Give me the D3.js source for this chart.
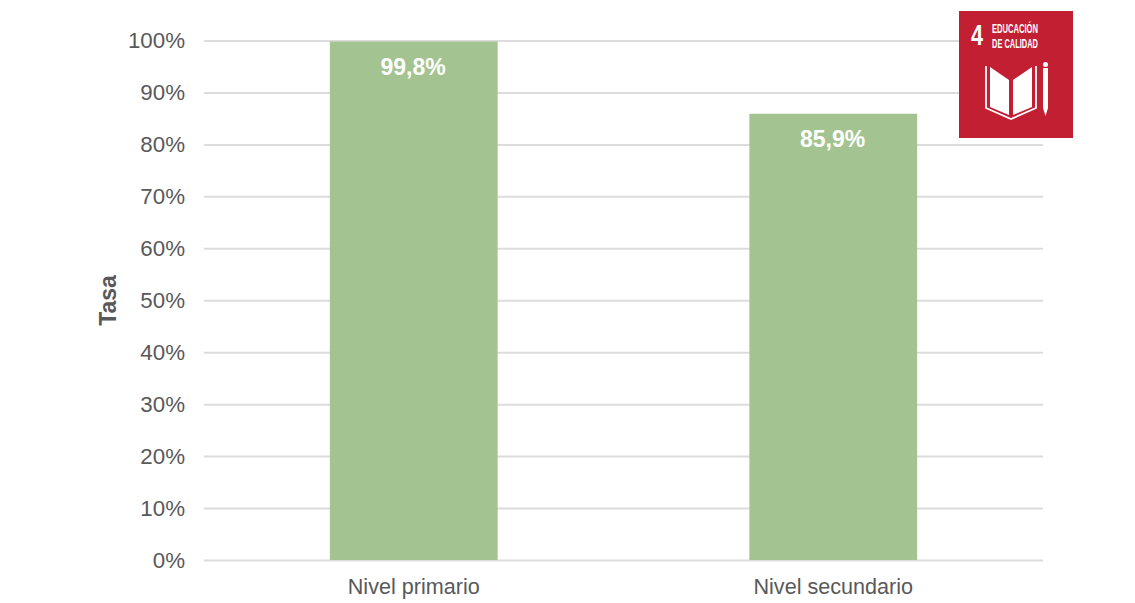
<!DOCTYPE html>
<html><head><meta charset="utf-8">
<script src="https://cdn.jsdelivr.net/npm/d3@7/dist/d3.min.js"></script>
<style>html,body{margin:0;background:#fff}svg{display:block}text{font-family:"Liberation Sans",Arial,sans-serif}</style>
</head><body><svg id="c" width="1135" height="603"></svg>
<script>
const categories = ["Nivel primario", "Nivel secundario"];
const values = [99.8, 85.9];
const valueLabels = ["99,8%", "85,9%"];
const yTicks = [0,10,20,30,40,50,60,70,80,90,100];
const yTitle = "Tasa";
const logoLines = ["EDUCACIÓN", "DE CALIDAD"];
const logoNumber = "4";

const svg = d3.select("#c");
const x = d3.scaleBand().domain(categories).range([204,1043]).paddingInner(0.6).paddingOuter(0.3);
const y = d3.scaleLinear().domain([0,100]).range([560,40.5]);

const gy = svg.append("g").attr("transform","translate(204,0)")
  .call(d3.axisLeft(y).tickValues(yTicks).tickSize(-839).tickPadding(19).tickFormat(d=>d+"%"));
gy.select(".domain").remove();
gy.selectAll("line").attr("stroke","#dcdcdc").attr("stroke-width",2);
gy.selectAll("text").attr("fill","#595959").attr("font-size",22.3);

svg.selectAll("rect.bar").data(values).join("rect").attr("class","bar")
  .attr("x",(d,i)=>x(categories[i])).attr("width",x.bandwidth())
  .attr("y",d=>y(d)).attr("height",d=>y(0)-y(d)).attr("fill","#a3c490");

svg.selectAll("text.val").data(values).join("text").attr("class","val")
  .attr("x",(d,i)=>x(categories[i])+x.bandwidth()/2-0.7).attr("y",d=>y(d)+33.5)
  .attr("text-anchor","middle").attr("fill","#fff").attr("font-size",23).attr("font-weight",700)
  .text((d,i)=>valueLabels[i]);

const gx = svg.append("g").attr("transform","translate(0,560)")
  .call(d3.axisBottom(x).tickSize(0).tickPadding(19));
gx.select(".domain").remove();
gx.selectAll("text").attr("fill","#595959").attr("font-size",21.6);

svg.append("text").attr("transform","translate(115.500,300.500) rotate(-90)").attr("text-anchor","middle")
  .attr("fill","#595959").attr("font-size",23).attr("font-weight",700).text(yTitle);

// SDG 4 logo
const logo = svg.append("g").attr("transform","translate(959,11)");
logo.append("rect").attr("width",114).attr("height",127).attr("fill","#c31f33");
logo.append("text").attr("x",12).attr("y",34).attr("fill","#fff").attr("font-size",30).attr("font-weight",700)
  .attr("textLength",12).attr("lengthAdjust","spacingAndGlyphs").text(logoNumber);
logo.selectAll("text.l").data(logoLines).join("text").attr("class","l")
  .attr("x",33).attr("y",(d,i)=>22+i*15).attr("fill","#fff").attr("font-size",13.5).attr("font-weight",700)
  .attr("textLength",46).attr("lengthAdjust","spacingAndGlyphs").text(d=>d);
const book = logo.append("g").attr("fill","#fff");
book.append("path").attr("d","M31 56 L50 69 L50 104 L31 96 Z M54 69 L73 56 L73 96 L54 104 Z");
book.append("path").attr("fill","none").attr("stroke","#fff").attr("stroke-width",1.800)
  .attr("d","M27 55 L27 97 L52 108 L77 97 L77 55");
book.append("path").attr("d","M84 57 L84 97 L86.500 105 L89 97 L89 57 Z");
book.append("circle").attr("cx",86.5).attr("cy",53.5).attr("r",2.5);
</script></body></html>
